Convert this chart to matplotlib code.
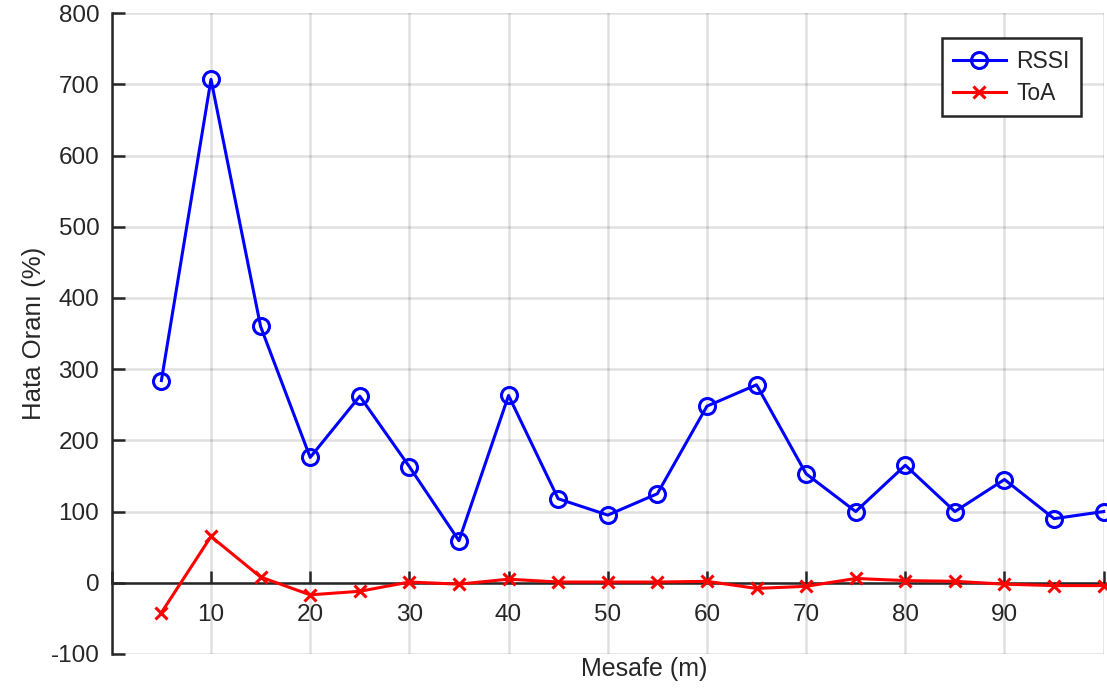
import numpy as np
import matplotlib
matplotlib.use('Agg')
import matplotlib.pyplot as plt

# Mesafe (m)
mesafe = [5, 10, 15, 20, 25, 30, 35, 40, 45, 50, 55, 60, 65, 70, 75, 80, 85, 90, 95, 100]
# Hata oranları (%)
rssi = [284, 707, 360, 176, 262, 163, 59, 263, 118, 95, 125, 248, 278, 153, 100, 165, 100, 145, 90, 100]
toa = [-42, 65, 8, -17, -12, 1, -2, 5, 1, 1, 1, 2, -8, -5, 6, 3, 2, -2, -4, -4]

x_ticks = list(range(0, 101, 10))
x_labels = ['' if t in (0, 100) else str(t) for t in x_ticks]
y_ticks = list(range(-100, 801, 100))

plt.rcParams['font.family'] = ['Liberation Sans', 'DejaVu Sans']
plt.rcParams['axes.unicode_minus'] = False
koyu = '#262626'

fig = plt.figure(figsize=(11.07, 6.92), dpi=100)
ax = fig.add_axes([0.101, 0.055, 0.896, 0.926])

ax.plot(mesafe, rssi, color='#0000ff', lw=2.2, marker='o', ms=11.5, mfc='none', mew=2.2,
        label='RSSI', zorder=4, clip_on=False)
ax.plot(mesafe, toa, color='#ff0000', lw=2.2, marker='x', ms=9, mew=2.2,
        label='ToA', zorder=4, clip_on=False)

ax.set_xlim(0, 100)
ax.set_ylim(-100, 800)
ax.set_xticks(x_ticks)
ax.set_xticklabels(x_labels)
ax.set_yticks(y_ticks)

# eksenler: x ekseni y=0 üzerinde
ax.spines['top'].set_visible(False)
ax.spines['right'].set_visible(False)
ax.spines['bottom'].set_position(('data', 0))
for s in ('left', 'bottom'):
    ax.spines[s].set_linewidth(1.8)
    ax.spines[s].set_color(koyu)
    ax.spines[s].set_zorder(3)

ax.tick_params(axis='both', direction='in', length=9, width=1.8, color=koyu,
               labelcolor=koyu, labelsize=17.5)
ax.tick_params(axis='x', pad=15)
ax.tick_params(axis='y', pad=9)

ax.grid(True, color='#000000', alpha=0.12, lw=1.8)
ax.set_axisbelow(True)

ax.set_xlabel('Mesafe (m)', fontsize=18, color=koyu)
ax.xaxis.set_label_coords(0.537, -0.004)
ax.set_ylabel('Hata Oranı (%)', fontsize=18.5, color=koyu)
ax.yaxis.set_label_coords(-0.066, 0.5)

leg = ax.legend(loc='upper right', bbox_to_anchor=(0.977, 0.961), borderaxespad=0,
                fontsize=16.5, fancybox=False, edgecolor=koyu, framealpha=1,
                handlelength=2.3, handletextpad=0.45, borderpad=0.5, labelspacing=0.4)
leg.get_frame().set_linewidth(1.8)
for t in leg.get_texts():
    t.set_color(koyu)

fig.savefig('out.png', dpi=100)
